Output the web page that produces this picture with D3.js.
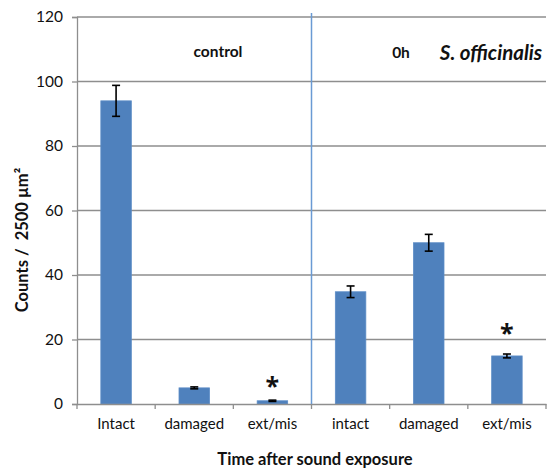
<!DOCTYPE html>
<html>
<head>
<meta charset="utf-8">
<script src="https://cdn.jsdelivr.net/npm/d3@7"></script>
<style>
  body { margin: 0; background: #fff; }
  text { font-family: Lato, "Open Sans", sans-serif; fill: #111; }
</style>
</head>
<body>
<div id="chart"></div>
<script>
// chart data
var categories = ["Intact", "damaged", "ext/mis", "intact", "damaged", "ext/mis"];
var counts = [94, 5, 1, 34.8, 50, 14.9];
var errors = [4.8, 0.3, 0.2, 1.8, 2.6, 0.6];
// level (in counts) where a significance star sits, null = none
var starLevel = [null, null, 7, null, null, 23.5];
var yTicks = [0, 20, 40, 60, 80, 100, 120];

var margin = {top: 17, right: 4, bottom: 65, left: 77},
    width = 550 - margin.left - margin.right,
    height = 469 - margin.top - margin.bottom;

var svg = d3.select("#chart").append("svg")
  .attr("width", 550)
  .attr("height", 469);
var g = svg.append("g")
  .attr("transform", "translate(" + margin.left + "," + margin.top + ")");

var data = categories.map(function(c, i) {
  return {key: i, label: c, value: counts[i], err: errors[i], star: starLevel[i]};
});

var x = d3.scaleBand().domain(d3.range(categories.length)).range([0, width]).paddingInner(0.61).paddingOuter(0.305);
var xEdges = d3.scaleBand().domain(d3.range(categories.length)).range([0, width]);
var y = d3.scaleLinear().domain([0, 120]).range([height, 0]);

// gridlines
g.selectAll(".grid").data(yTicks.filter(function(t) { return t > 0; }))
  .enter().append("line")
  .attr("x1", 0).attr("x2", width)
  .attr("y1", function(d) { return y(d); }).attr("y2", function(d) { return y(d); })
  .attr("stroke", "#8e8e8e").attr("stroke-width", 1.3);

// y axis
var yAxis = g.append("g")
  .call(d3.axisLeft(y).tickValues(yTicks).tickSize(5).tickPadding(9));
yAxis.select(".domain").attr("stroke", "#8e8e8e").attr("stroke-width", 1.3);
yAxis.selectAll(".tick line").attr("stroke", "#8e8e8e").attr("stroke-width", 1.3);
yAxis.selectAll("text").style("font-size", "15.5px").attr("fill", "#111");

// bars
g.selectAll(".bar").data(data).enter().append("rect")
  .attr("x", function(d) { return x(d.key); })
  .attr("width", x.bandwidth())
  .attr("y", function(d) { return y(d.value); })
  .attr("height", function(d) { return height - y(d.value); })
  .attr("fill", "#4f81bd")
  .attr("stroke", "#5b8cc6").attr("stroke-width", 0.8);

// error bars
var eb = g.selectAll(".err").data(data).enter().append("g")
  .attr("stroke", "#000").attr("stroke-width", 1.6);
eb.append("line")
  .attr("x1", function(d) { return x(d.key) + x.bandwidth() / 2; })
  .attr("x2", function(d) { return x(d.key) + x.bandwidth() / 2; })
  .attr("y1", function(d) { return y(d.value + d.err); })
  .attr("y2", function(d) { return y(d.value - d.err); });
[1, -1].forEach(function(s) {
  eb.append("line")
    .attr("x1", function(d) { return x(d.key) + x.bandwidth() / 2 - 4; })
    .attr("x2", function(d) { return x(d.key) + x.bandwidth() / 2 + 4; })
    .attr("y1", function(d) { return y(d.value + s * d.err); })
    .attr("y2", function(d) { return y(d.value + s * d.err); });
});

// significance stars
g.selectAll(".star").data(data.filter(function(d) { return d.star !== null; }))
  .enter().append("text")
  .attr("x", function(d) { return x(d.key) + x.bandwidth() / 2; })
  .attr("y", function(d) { return y(d.star); })
  .attr("dy", "0.56em")
  .attr("text-anchor", "middle")
  .style("font-family", "'Open Sans', sans-serif")
  .style("font-size", "25px").style("font-weight", "bold")
  .text("*");

// x axis
var xAxis = g.append("g")
  .attr("transform", "translate(0," + height + ")")
  .call(d3.axisBottom(xEdges).tickSize(0).tickPadding(14).tickFormat(function(i) { return categories[i]; }));
xAxis.select(".domain").attr("stroke", "#8e8e8e").attr("stroke-width", 1.3);
xAxis.selectAll("text").style("font-size", "15px").attr("fill", "#111");
// category boundary ticks
g.selectAll(".xtick").data(d3.range(categories.length + 1))
  .enter().append("line")
  .attr("x1", function(i) { return i * xEdges.bandwidth(); })
  .attr("x2", function(i) { return i * xEdges.bandwidth(); })
  .attr("y1", height).attr("y2", height + 5)
  .attr("stroke", "#8e8e8e").attr("stroke-width", 1.3);

// separator between control and 0h
g.append("line")
  .attr("x1", 3 * xEdges.bandwidth()).attr("x2", 3 * xEdges.bandwidth())
  .attr("y1", -4).attr("y2", height)
  .attr("stroke", "#6a9ad4").attr("stroke-width", 1.5);

// group labels
svg.append("text").attr("x", 218).attr("y", 57).attr("text-anchor", "middle")
  .style("font-size", "15.5px").style("font-weight", "bold").text("control");
svg.append("text").attr("x", 401).attr("y", 58).attr("text-anchor", "middle")
  .style("font-size", "15.5px").style("font-weight", "bold").text("0h");
svg.append("text").attr("x", 491).attr("y", 60).attr("text-anchor", "middle")
  .style("font-size", "20.5px").style("font-weight", "bold").style("font-style", "italic")
  .text("S. officinalis");

// axis titles
svg.append("text")
  .attr("transform", "translate(28,240) rotate(-90)")
  .attr("text-anchor", "middle")
  .attr("xml:space", "preserve").style("white-space", "pre")
  .style("font-size", "16.5px").style("font-weight", "bold")
  .text("Counts /  2500 µm²");
svg.append("text").attr("x", 315).attr("y", 465).attr("text-anchor", "middle")
  .style("font-size", "16.5px").style("font-weight", "bold")
  .text("Time after sound exposure");
</script>
</body>
</html>
